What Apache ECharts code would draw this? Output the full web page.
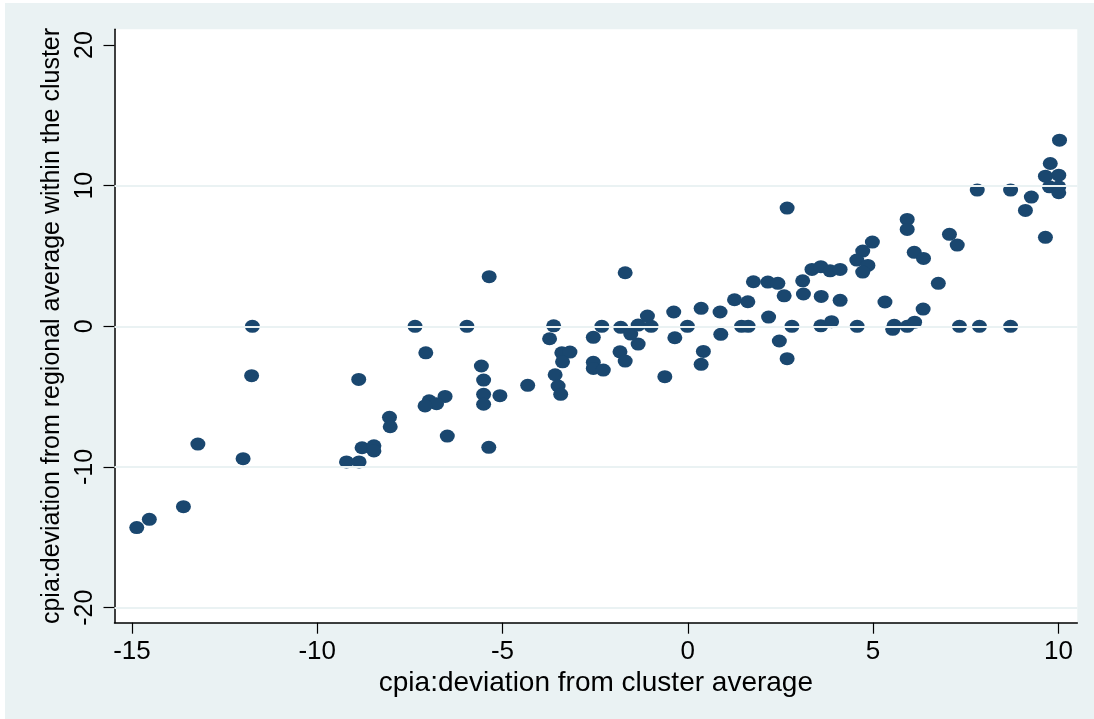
<!DOCTYPE html>
<html>
<head>
<meta charset="utf-8">
<script src="https://cdn.jsdelivr.net/npm/echarts@6/dist/echarts.min.js"></script>
<style>
  html, body { margin: 0; padding: 0; background: #ffffff; }
  #chart { position: absolute; left: 5px; top: 3px; width: 1089px; height: 716px; }
</style>
</head>
<body>
<div id="chart"></div>
<script>
// Deviation from cluster average (x) vs deviation from regional average within the cluster (y)
const xValues = [
  -11.75, -11.77, -8.88, -8.05, -8.03, -13.22, -8.79, -8.47, -8.47, -12.0,
  -9.21, -8.87, -13.61, -14.53, -14.87,
  -7.36, -5.96, -7.07, -5.57, -5.51, -6.55, -6.98, -6.78, -7.09, -5.51,
  -5.51, -5.07, -6.49, -5.37, -4.32, -3.62, -3.73, -3.40, -3.18, -3.38,
  -3.58, -3.50, -3.43,
  -5.36, -1.69, -2.32, -2.55, -1.81, -1.54, -1.34, -1.09, -0.99, -1.34,
  -1.83, -1.69, -2.55, -2.55, -2.28, -0.62,
  -0.38, -0.35, -0.01, 0.36, 0.42, 0.36, 0.87, 0.89, 1.26, 1.62,
  1.45, 1.63, 1.77, 2.16, 2.43, 2.18, 2.60, 2.81, 2.47, 2.68,
  3.10, 3.12, 3.35, 3.59, 3.84, 4.11, 3.60, 3.59, 3.88, 4.11, 2.68,
  5.92, 5.92, 7.06, 7.27, 4.98, 4.72, 4.56, 4.86, 4.72, 6.11,
  6.36, 6.76, 5.32, 6.35, 4.57, 5.53, 5.57, 5.92, 6.12, 7.33, 7.87,
  10.03, 9.78, 9.65, 10.01, 9.76, 10.01, 10.01, 7.81, 8.71, 9.27,
  9.11, 9.65, 8.71
];
const yValues = [
  0.0, -3.51, -3.77, -6.47, -7.14, -8.37, -8.63, -8.49, -8.86, -9.41,
  -9.64, -9.64, -12.82, -13.72, -14.31,
  0.0, 0.0, -1.88, -2.82, -3.82, -4.98, -5.29, -5.50, -5.66, -4.83,
  -5.54, -4.93, -7.80, -8.60, -4.19, 0.04, -0.88, -1.88, -1.83, -2.52,
  -3.44, -4.24, -4.83,
  3.53, 3.81, 0.0, -0.78, -0.07, -0.55, 0.09, 0.73, 0.0, -1.26,
  -1.81, -2.47, -2.56, -2.99, -3.11, -3.58,
  1.02, -0.81, 0.0, 1.28, -1.78, -2.70, 1.02, -0.57, 1.89, 1.75,
  0.0, 0.0, 3.17, 3.15, 3.06, 0.66, 2.17, 0.0, -1.04, -2.30,
  3.24, 2.30, 4.05, 4.24, 3.95, 4.05, 2.13, 0.04, 0.33, 1.85, 8.41,
  7.60, 6.89, 6.54, 5.78, 5.99, 5.35, 4.71, 4.33, 3.86, 5.26,
  4.83, 3.06, 1.73, 1.23, 0.0, -0.21, 0.07, 0.0, 0.30, 0.0, 0.0,
  13.24, 11.58, 10.68, 10.75, 9.92, 9.92, 9.50, 9.69, 9.69, 9.19,
  8.24, 6.33, 0.0
];

const xTicks = [-15, -10, -5, 0, 5, 10];
const yTicks = [-20, -10, 0, 10, 20];
const yGridLines = [-20, -10, 0, 10];

const xTitle = 'cpia:deviation from cluster average';
const yTitle = 'cpia:deviation from regional average within the cluster';

const points = xValues.map((x, i) => [x, yValues[i]]);

const navy = '#1a476f';
const paleBlue = '#eaf2f3';
const font = '"Liberation Sans", Arial, sans-serif';

const chart = echarts.init(document.getElementById('chart'), null, { renderer: 'canvas' });

chart.setOption({
  backgroundColor: paleBlue,
  animation: false,
  grid: {
    left: 109.5,
    top: 26.3,
    right: 16.7,
    bottom: 96.3,
    show: true,
    backgroundColor: '#ffffff',
    borderWidth: 0
  },
  xAxis: {
    type: 'value',
    min: -15.47,
    max: 10.51,
    name: xTitle,
    nameLocation: 'middle',
    nameGap: 41,
    nameTextStyle: { color: '#000', fontFamily: font, fontSize: 28 },
    axisLine: { show: true, onZero: false, lineStyle: { color: '#000', width: 1.5 } },
    axisTick: { show: true, length: 11, customValues: xTicks, lineStyle: { color: '#000', width: 1.2 } },
    axisLabel: { customValues: xTicks, color: '#000', fontFamily: font, fontSize: 26, margin: 16 },
    splitLine: { show: false }
  },
  yAxis: {
    type: 'value',
    min: -21.07,
    max: 21.12,
    name: yTitle,
    nameLocation: 'middle',
    nameGap: 46,
    nameRotate: 90,
    nameTextStyle: { color: '#000', fontFamily: font, fontSize: 25 },
    axisLine: { show: true, onZero: false, lineStyle: { color: '#000', width: 1.5 } },
    axisTick: { show: true, length: 11, customValues: yTicks, lineStyle: { color: '#000', width: 1.2 } },
    axisLabel: { customValues: yTicks, rotate: 90, color: '#000', fontFamily: font, fontSize: 25, margin: 17 },
    splitLine: { show: false }
  },
  series: [
    {
      type: 'scatter',
      data: [],
      z: 1,
      silent: true,
      markLine: {
        silent: true,
        symbol: 'none',
        label: { show: false },
        lineStyle: { color: paleBlue, width: 2, type: 'solid' },
        data: yGridLines.map(v => ({ yAxis: v }))
      }
    },
    {
      type: 'scatter',
      z: 3,
      symbol: 'circle',
      symbolSize: [15, 13],
      itemStyle: { color: navy, opacity: 1 },
      data: points
    }
  ]
});
</script>
</body>
</html>
